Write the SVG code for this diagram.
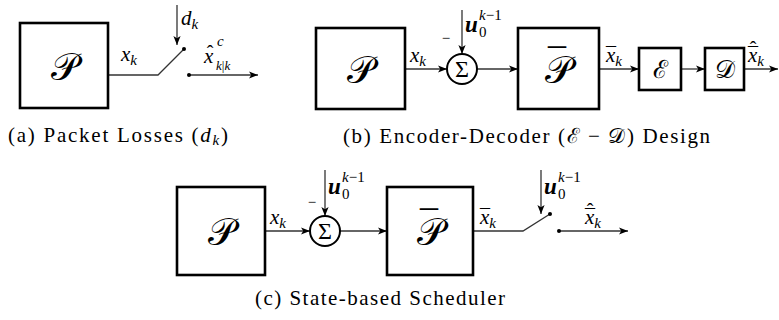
<svg xmlns="http://www.w3.org/2000/svg" width="779" height="320" viewBox="0 0 779 320">
<rect width="779" height="320" fill="#fff"/>
<g id="captions">
<text x="8" y="142" font-family="Liberation Serif" font-size="21" textLength="220" lengthAdjust="spacing">(a)  Packet Losses (<tspan font-style="italic">d</tspan><tspan font-style="italic" font-size="15" dy="3">k</tspan><tspan dy="-3">)</tspan></text>
<text x="343" y="143" font-family="Liberation Serif" font-size="21" textLength="367" lengthAdjust="spacing">(b)  Encoder-Decoder (<tspan font-family="DejaVu Serif">ℰ</tspan> − <tspan font-family="DejaVu Serif">𝒟</tspan>) Design</text>
<text x="255" y="305" font-family="Liberation Serif" font-size="21" textLength="250" lengthAdjust="spacing">(c)  State-based Scheduler</text>
</g>
<defs>
<marker id="ah" viewBox="0 0 10 10" refX="10" refY="5" markerWidth="9" markerHeight="9" orient="auto" markerUnits="userSpaceOnUse"><path d="M0,1 L10,5 L0,9 L2.5,5 z" fill="#000"/></marker>
</defs>
<g id="connectors" fill="none" stroke="#333" stroke-width="1.3">
<path d="M108,75 H158 L184,49"/>
<path d="M189,75 H258" marker-end="url(#ah)"/>
<path d="M177,5 V45" marker-end="url(#ah)"/>
<path d="M405,69 H447" marker-end="url(#ah)"/>
<path d="M462,10 V54" marker-end="url(#ah)"/>
<path d="M477,69 H518" marker-end="url(#ah)"/>
<path d="M599,69 H639" marker-end="url(#ah)"/>
<path d="M681,69 H705" marker-end="url(#ah)"/>
<path d="M744,69 H778" marker-end="url(#ah)"/>
<path d="M265,231 H310" marker-end="url(#ah)"/>
<path d="M325,170 V216" marker-end="url(#ah)"/>
<path d="M340,231 H387" marker-end="url(#ah)"/>
<path d="M473,231 H523 L550,214"/>
<path d="M541,170 V214" marker-end="url(#ah)"/>
<path d="M559,231 H628" marker-end="url(#ah)"/>
</g>
<g id="a-plant">
<rect x="20" y="23" width="88" height="85" fill="#fff" stroke="#000" stroke-width="2.6"/>
<text x="64" y="80" font-family="DejaVu Serif" font-size="38" text-anchor="middle">𝒫</text>
</g>
<g id="a-switch" fill="#000">
<circle cx="184" cy="49" r="2"/>
<circle cx="189" cy="75" r="2"/>
</g>
<g id="a-labels">
<text x="181" y="25" font-family="Liberation Serif" font-style="italic" font-size="21">d<tspan font-size="15" dy="4">k</tspan></text>
<text x="121" y="61" font-family="Liberation Serif" font-style="italic" font-size="21">x<tspan font-size="15" dy="4">k</tspan></text>
<text x="204" y="63" font-family="Liberation Serif" font-style="italic" font-size="21">x</text>
<text x="210" y="60" font-family="Liberation Serif" font-size="20" text-anchor="middle">ˆ</text>
<text x="217" y="46" font-family="Liberation Serif" font-style="italic" font-size="15">c</text>
<text x="216" y="70" font-family="Liberation Serif" font-style="italic" font-size="13">k<tspan font-style="normal">|</tspan>k</text>
</g>
<g id="b-plant">
<rect x="316" y="28" width="89" height="81" fill="#fff" stroke="#000" stroke-width="2.6"/>
<text x="360" y="83" font-family="DejaVu Serif" font-size="38" text-anchor="middle">𝒫</text>
</g>
<g id="b-sum">
<circle cx="462" cy="69" r="15" fill="#fff" stroke="#000" stroke-width="2"/>
<text x="462" y="77" font-family="Liberation Serif" font-size="24" text-anchor="middle">Σ</text>
<text x="446" y="43" font-family="Liberation Serif" font-size="15" text-anchor="middle">−</text>
</g>
<g id="b-plantbar">
<rect x="518" y="28" width="81" height="81" fill="#fff" stroke="#000" stroke-width="2.6"/>
<text x="558" y="83" font-family="DejaVu Serif" font-size="38" text-anchor="middle">𝒫</text>
<text x="557" y="74" font-family="Liberation Serif" font-size="36" text-anchor="middle">¯</text>
</g>
<g id="b-encoder">
<rect x="639" y="48" width="42" height="42" fill="#fff" stroke="#000" stroke-width="2.6"/>
<text x="660" y="78" font-family="DejaVu Serif" font-size="25" text-anchor="middle">ℰ</text>
</g>
<g id="b-decoder">
<rect x="705" y="48" width="39" height="42" fill="#fff" stroke="#000" stroke-width="2.6"/>
<text x="724.5" y="78" font-family="DejaVu Serif" font-size="25" text-anchor="middle">𝒟</text>
</g>
<g id="b-labels">
<text x="410" y="62" font-family="Liberation Serif" font-style="italic" font-size="21">x<tspan font-size="15" dy="4">k</tspan></text>
<text x="465" y="32" font-family="Liberation Serif" font-style="italic" font-weight="bold" font-size="23">u</text>
<text x="479" y="20" font-family="Liberation Serif" font-style="italic" font-size="15">k<tspan font-style="normal">−1</tspan></text>
<text x="479" y="37" font-family="Liberation Serif" font-size="15">0</text>
<text x="606" y="62" font-family="Liberation Serif" font-style="italic" font-size="21">x<tspan font-size="15" dy="4">k</tspan></text>
<text x="611" y="62" font-family="Liberation Serif" font-size="20" text-anchor="middle">¯</text>
<text x="748" y="62" font-family="Liberation Serif" font-style="italic" font-size="21">x<tspan font-size="15" dy="4">k</tspan></text>
<text x="753" y="62" font-family="Liberation Serif" font-size="20" text-anchor="middle">¯</text>
<text x="753" y="56" font-family="Liberation Serif" font-size="20" text-anchor="middle">ˆ</text>
</g>
<g id="c-plant">
<rect x="177" y="187" width="88" height="88" fill="#fff" stroke="#000" stroke-width="2.6"/>
<text x="221" y="245" font-family="DejaVu Serif" font-size="38" text-anchor="middle">𝒫</text>
</g>
<g id="c-sum">
<circle cx="325" cy="231" r="15" fill="#fff" stroke="#000" stroke-width="2"/>
<text x="325" y="239" font-family="Liberation Serif" font-size="24" text-anchor="middle">Σ</text>
<text x="312" y="207" font-family="Liberation Serif" font-size="15" text-anchor="middle">−</text>
</g>
<g id="c-plantbar">
<rect x="387" y="187" width="86" height="88" fill="#fff" stroke="#000" stroke-width="2.6"/>
<text x="430" y="245" font-family="DejaVu Serif" font-size="38" text-anchor="middle">𝒫</text>
<text x="429" y="236" font-family="Liberation Serif" font-size="36" text-anchor="middle">¯</text>
</g>
<g id="c-scheduler" fill="#000">
<circle cx="550" cy="214" r="2"/>
<circle cx="559" cy="231" r="2"/>
</g>
<g id="c-labels">
<text x="270" y="224" font-family="Liberation Serif" font-style="italic" font-size="21">x<tspan font-size="15" dy="4">k</tspan></text>
<text x="328" y="194" font-family="Liberation Serif" font-style="italic" font-weight="bold" font-size="23">u</text>
<text x="342" y="182" font-family="Liberation Serif" font-style="italic" font-size="15">k<tspan font-style="normal">−1</tspan></text>
<text x="342" y="199" font-family="Liberation Serif" font-size="15">0</text>
<text x="480" y="224" font-family="Liberation Serif" font-style="italic" font-size="21">x<tspan font-size="15" dy="4">k</tspan></text>
<text x="485" y="224" font-family="Liberation Serif" font-size="20" text-anchor="middle">¯</text>
<text x="544" y="194" font-family="Liberation Serif" font-style="italic" font-weight="bold" font-size="23">u</text>
<text x="558" y="182" font-family="Liberation Serif" font-style="italic" font-size="15">k<tspan font-style="normal">−1</tspan></text>
<text x="558" y="199" font-family="Liberation Serif" font-size="15">0</text>
<text x="585" y="224" font-family="Liberation Serif" font-style="italic" font-size="21">x<tspan font-size="15" dy="4">k</tspan></text>
<text x="590" y="224" font-family="Liberation Serif" font-size="20" text-anchor="middle">¯</text>
<text x="590" y="218" font-family="Liberation Serif" font-size="20" text-anchor="middle">ˆ</text>
</g>
</svg>
